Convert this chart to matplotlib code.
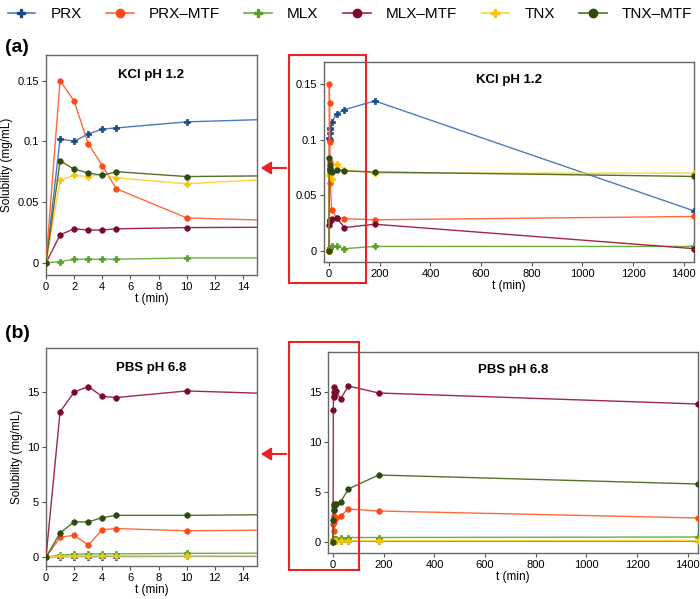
import numpy as np
import matplotlib; matplotlib.use("Agg"); import matplotlib.pyplot as plt
from matplotlib.patches import Rectangle, FancyArrowPatch

plt.rcParams['font.family'] = ['Liberation Sans', 'DejaVu Sans']

t = [0, 1, 2, 3, 4, 5, 10, 30, 60, 180, 1440]
series = ["PRX", "PRX–MTF", "MLX", "MLX–MTF", "TNX", "TNX–MTF"]
line_cols = ["#4a7cc0", "#ff6a3d", "#6cb040", "#a02848", "#ffd23a", "#55702a"]
mark_cols = ["#1a4a8c", "#ff4a14", "#58a028", "#7a0a28", "#ffc400", "#2e4a12"]
markers = ["P", "o", "P", "o", "P", "o"]

# KCl pH 1.2 (mg/mL)
kcl = {
    "PRX":     [0, 0.102, 0.100, 0.106, 0.110, 0.111, 0.116, 0.123, 0.127, 0.135, 0.036],
    "PRX–MTF": [0, 0.150, 0.133, 0.098, 0.080, 0.061, 0.037, 0.030, 0.029, 0.028, 0.031],
    "MLX":     [0, 0.001, 0.003, 0.003, 0.003, 0.003, 0.004, 0.004, 0.002, 0.004, 0.004],
    "MLX–MTF": [0, 0.023, 0.028, 0.027, 0.027, 0.028, 0.029, 0.030, 0.021, 0.024, 0.002],
    "TNX":     [0, 0.068, 0.072, 0.071, 0.073, 0.070, 0.065, 0.078, 0.073, 0.070, 0.070],
    "TNX–MTF": [0, 0.084, 0.077, 0.074, 0.072, 0.075, 0.071, 0.073, 0.072, 0.071, 0.067],
}
# PBS pH 6.8 (mg/mL)
pbs = {
    "PRX":     [0, 0.05, 0.06, 0.06, 0.06, 0.06, 0.07, 0.07, 0.08, 0.08, 0.08],
    "PRX–MTF": [0, 1.8, 2.0, 1.1, 2.5, 2.6, 2.4, 2.6, 3.3, 3.1, 2.4],
    "MLX":     [0, 0.20, 0.25, 0.30, 0.30, 0.30, 0.35, 0.40, 0.45, 0.45, 0.50],
    "MLX–MTF": [0, 13.2, 15.0, 15.5, 14.6, 14.5, 15.1, 14.3, 15.6, 14.9, 13.8],
    "TNX":     [0, 0.10, 0.10, 0.12, 0.12, 0.12, 0.12, 0.13, 0.13, 0.14, 0.15],
    "TNX–MTF": [0, 2.2, 3.2, 3.2, 3.6, 3.8, 3.8, 4.0, 5.3, 6.7, 5.8],
}

W, H = 700, 599
fig = plt.figure(figsize=(7, 5.99), dpi=100)

def px_axes(x0, y0, x1, y1):
    return fig.add_axes([x0 / W, 1 - y1 / H, (x1 - x0) / W, (y1 - y0) / H])

def draw(ax, data, title, xlim, xticks, ylim, yticks, yfmt, ylabel):
    for s, lc, mc, m in zip(series, line_cols, mark_cols, markers):
        ax.plot(t, data[s], color=lc, lw=1, marker=m, ms=4.5 if m == "P" else 4,
                mfc=mc, mec=mc, mew=0.5, zorder=3)
    ax.set_xlim(*xlim); ax.set_ylim(*ylim)
    ax.set_xticks(xticks); ax.set_yticks(yticks)
    ax.set_yticklabels([yfmt(v) for v in yticks])
    ax.tick_params(labelsize=8, length=3, color="#555555", direction="out", pad=2)
    for sp in ax.spines.values():
        sp.set_color("#666666"); sp.set_linewidth(1)
    ax.set_xlabel("t (min)", fontsize=8.5, labelpad=1)
    if ylabel:
        ax.set_ylabel("Solubility (mg/mL)", fontsize=8.5, labelpad=3)
    ax.text(0.5, 0.91, title, transform=ax.transAxes, ha="center", va="center",
            fontsize=9.5, fontweight="bold")

fa = lambda v: "0" if v == 0 else (f"{v:.2f}".rstrip("0").rstrip("."))
fb = lambda v: f"{v:g}"

a1 = px_axes(46, 55, 257, 275)
draw(a1, kcl, "KCl pH 1.2", (0, 15), range(0, 15, 2), (-0.01, 0.171), [0, 0.05, 0.1, 0.15], fa, True)
a2 = px_axes(324, 62, 694, 262)
draw(a2, kcl, "KCl pH 1.2", (-20, 1440), range(0, 1401, 200), (-0.01, 0.17), [0, 0.05, 0.1, 0.15], fa, False)
b1 = px_axes(46, 348, 257, 566)
draw(b1, pbs, "PBS pH 6.8", (0, 15), range(0, 15, 2), (-0.8, 19), [0, 5, 10, 15], fb, True)
b2 = px_axes(328, 352, 698, 553)
draw(b2, pbs, "PBS pH 6.8", (-20, 1440), range(0, 1401, 200), (-1.1, 19), [0, 5, 10, 15], fb, False)

# red zoom boxes and arrows
for (x0, y0, x1, y1, ya) in [(289, 55, 366, 283, 168), (289, 342, 359, 570, 454)]:
    fig.add_artist(Rectangle((x0 / W, 1 - y1 / H), (x1 - x0) / W, (y1 - y0) / H,
                             transform=fig.transFigure, fill=False, ec="#ee2222", lw=1.5))
    fig.add_artist(FancyArrowPatch((x0 / W, 1 - ya / H), (258 / W, 1 - ya / H),
                                   transform=fig.transFigure, arrowstyle="-|>,head_length=4,head_width=2.5",
                                   color="#ee2222", lw=1.5, mutation_scale=1.5))

fig.text(5 / W, 1 - 47 / H, "(a)", fontsize=14, fontweight="bold", va="center")
fig.text(5 / W, 1 - 333 / H, "(b)", fontsize=14, fontweight="bold", va="center")

handles = [plt.Line2D([], [], color=lc, lw=1.2, marker=m, ms=6, mfc=mc, mec=mc)
           for lc, mc, m in zip(line_cols, mark_cols, markers)]
fig.legend(handles, series, loc="center", bbox_to_anchor=(0.5, 1 - 14 / H), ncol=6,
           frameon=False, fontsize=11, handlelength=1.8, columnspacing=1.6, handletextpad=1.0,
           borderpad=0.2)

plt.savefig("out.png", dpi=100)
